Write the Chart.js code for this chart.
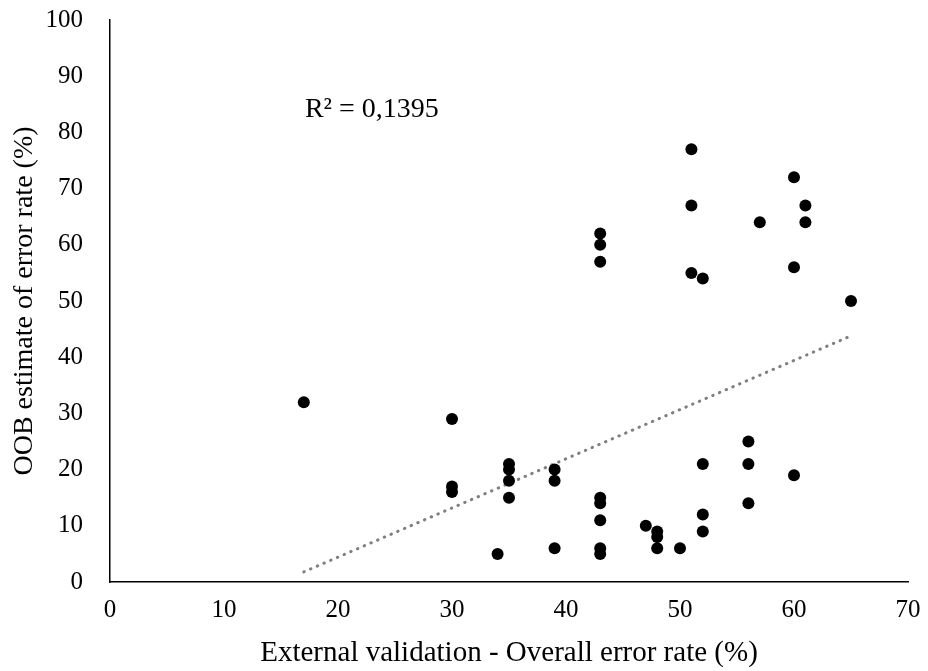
<!DOCTYPE html>
<html>
<head>
<meta charset="utf-8">
<script src="https://cdn.jsdelivr.net/npm/chart.js@4"></script>
<style>
html,body{margin:0;padding:0;background:#fff;}
#wrap{width:928px;height:671px;}
</style>
</head>
<body>
<div id="wrap"><canvas id="c" width="928" height="671"></canvas></div>
<script>
const xValues = [17,30,30,30,34,35,35,35,35,39,39,39,43,43,43,43,43,43,43,43,47,48,48,48,50,51,51,51,52,52,52,52,56,56,56,57,60,60,60,61,61,65];
const yValues = [32,29,17,16,5,21,20,18,15,20,18,6,62,60,57,15,14,11,6,5,10,9,8,6,6,77,67,55,54,21,12,9,25,21,14,64,72,56,19,67,64,50];
const trendX = [17,65];
const trendY = [1.8,43.8];
const xTicks = [0,10,20,30,40,50,60,70];
const yTicks = [0,10,20,30,40,50,60,70,80,90,100];
const r2Label = "R² = 0,1395";
const r2Pos = {x:17.1, y:84};

const points = xValues.map((x,i)=>({x:x, y:yValues[i]}));
const trend = trendX.map((x,i)=>({x:x, y:trendY[i]}));
const FONT = "'Liberation Serif', 'Times New Roman', serif";

const r2Plugin = {
  id:'r2',
  afterDatasetsDraw(chart){
    const ctx = chart.ctx;
    const xs = chart.scales.x, ys = chart.scales.y;
    ctx.save();
    ctx.font = "28px " + FONT;
    ctx.fillStyle = "#000";
    ctx.textBaseline = "middle";
    ctx.textAlign = "left";
    ctx.fillText(r2Label, xs.getPixelForValue(r2Pos.x), ys.getPixelForValue(r2Pos.y));
    ctx.restore();
  }
};

function zeroPad(s){ s.paddingTop = 0; s.paddingBottom = 0; s.paddingLeft = 0; s.paddingRight = 0; }

new Chart(document.getElementById('c'), {
  type:'scatter',
  data:{
    datasets:[
      {data:trend, type:'line', showLine:true, borderColor:'#7f7f7f', borderWidth:3, borderDash:[0.5,6.8], borderCapStyle:'round', pointRadius:0, fill:false, order:2},
      {data:points, backgroundColor:'#000', borderColor:'#000', pointRadius:6, pointHoverRadius:6, borderWidth:0, order:1}
    ]
  },
  options:{
    responsive:false,
    animation:false,
    devicePixelRatio:1,
    plugins:{legend:{display:false}, tooltip:{enabled:false}},
    layout:{padding:{top:20,right:20,left:0,bottom:0}},
    scales:{
      x:{
        type:'linear', min:0, max:70,
        afterBuildTicks(s){ s.ticks = xTicks.map(v=>({value:v})); },
        afterFit(s){ s.height = 89; zeroPad(s); },
        grid:{display:false, drawTicks:false},
        border:{display:true, color:'#000', width:1.5},
        ticks:{color:'#000', font:{family:FONT, size:25}, padding:13, maxRotation:0, autoSkip:false},
        title:{display:true, text:'External validation - Overall error rate (%)', color:'#000', font:{family:FONT, size:29}, padding:{top:0,bottom:0}}
      },
      y:{
        type:'linear', min:0, max:100,
        afterBuildTicks(s){ s.ticks = yTicks.map(v=>({value:v})); },
        afterFit(s){ s.width = 110; zeroPad(s); },
        grid:{display:false, drawTicks:false},
        border:{display:true, color:'#000', width:1.5},
        ticks:{color:'#000', font:{family:FONT, size:25}, padding:27, autoSkip:false},
        title:{display:true, text:'OOB estimate of error rate (%)', color:'#000', font:{family:FONT, size:28}, padding:{top:8,bottom:0}}
      }
    }
  },
  plugins:[r2Plugin]
});
</script>
</body>
</html>
